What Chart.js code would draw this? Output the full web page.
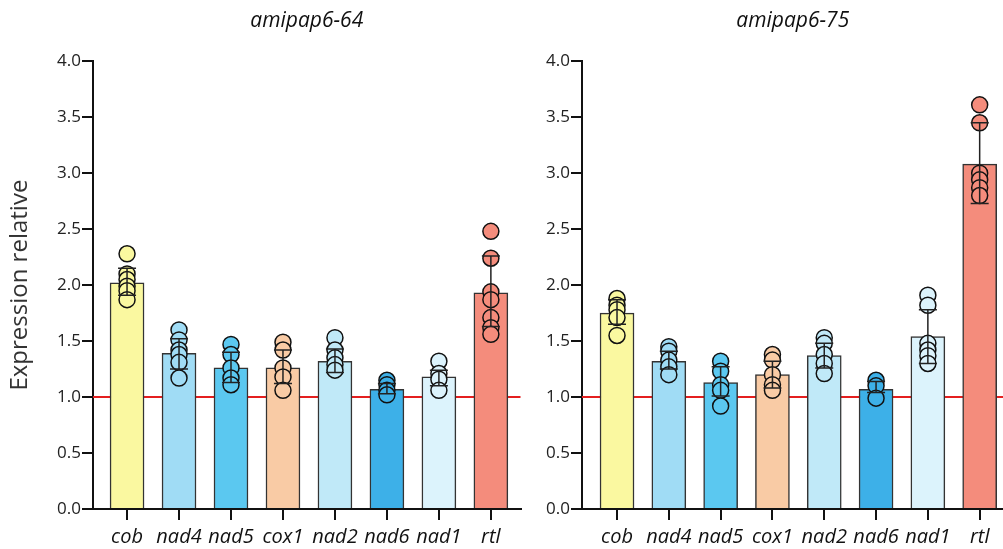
<!DOCTYPE html>
<html lang="en">
<head>
<meta charset="UTF-8" />
<title>amipap6 expression</title>
<script src="https://cdn.jsdelivr.net/npm/chart.js"></script>
<style>
  body { margin: 0; background: #fff; overflow: hidden; }
  #wrap { position: relative; width: 1003px; height: 549px; overflow: hidden; }
  canvas { position: absolute; top: 0; }
</style>
</head>
<body>
<div id="wrap">
  <!-- canvases are 10px wider than their panel: Chart.js keeps room for the point radius on the right -->
  <canvas id="left" width="530" height="549" style="left:0"></canvas>
  <canvas id="right" width="493" height="549" style="left:520px"></canvas>
</div>
<script>
const genes = ['cob', 'nad4', 'nad5', 'cox1', 'nad2', 'nad6', 'nad1', 'rtl'];
const barColors = ['#faf8a0', '#a0dcf5', '#5bc8f0', '#f9cba5', '#c0e9f8', '#3db0e8', '#dcf3fc', '#f48c7c'];
const refLevel = 1.0;

// amipap6-64
const means64 = [2.02, 1.39, 1.26, 1.26, 1.32, 1.07, 1.18, 1.93];
const errHi64 = [2.15, 1.52, 1.40, 1.42, 1.43, 1.12, 1.24, 2.26];
const errLo64 = [1.91, 1.25, 1.13, 1.12, 1.22, 1.03, 1.10, 1.63];
const reps64 = [
  [2.28, 2.10, 2.05, 1.99, 1.95, 1.87],
  [1.60, 1.51, 1.42, 1.38, 1.31, 1.17],
  [1.47, 1.38, 1.26, 1.17, 1.11],
  [1.49, 1.42, 1.26, 1.18, 1.06],
  [1.53, 1.42, 1.35, 1.29, 1.24],
  [1.15, 1.11, 1.06, 1.02],
  [1.32, 1.21, 1.16, 1.06],
  [2.48, 2.24, 1.94, 1.87, 1.71, 1.62, 1.56]
];

// amipap6-75
const means75 = [1.75, 1.32, 1.13, 1.20, 1.37, 1.07, 1.54, 3.08];
const errHi75 = [1.87, 1.41, 1.27, 1.32, 1.48, 1.14, 1.78, 3.45];
const errLo75 = [1.65, 1.25, 1.01, 1.08, 1.26, 1.04, 1.30, 2.73];
const reps75 = [
  [1.88, 1.82, 1.78, 1.71, 1.55],
  [1.45, 1.41, 1.33, 1.27, 1.20],
  [1.32, 1.23, 1.11, 1.06, 0.92],
  [1.38, 1.33, 1.20, 1.11, 1.06],
  [1.53, 1.48, 1.38, 1.30, 1.21],
  [1.15, 1.10, 0.99],
  [1.91, 1.82, 1.48, 1.42, 1.37, 1.30],
  [3.61, 3.45, 3.00, 2.94, 2.87, 2.80]
];

const FONT = '"Open Sans", "Noto Sans", sans-serif';
const INK = '#111';

// red reference line, under the bars
const refLine = {
  id: 'refLine',
  beforeDatasetsDraw(chart) {
    const { ctx, chartArea, scales } = chart;
    const y = scales.y.getPixelForValue(refLevel);
    ctx.save();
    ctx.strokeStyle = '#e41f1f';
    ctx.lineWidth = 2;
    ctx.beginPath();
    ctx.moveTo(chartArea.left, y);
    ctx.lineTo(chartArea.right, y);
    ctx.stroke();
    ctx.restore();
  }
};

// SD whiskers on top of everything
const errorBars = {
  id: 'errorBars',
  afterDatasetsDraw(chart, args, opts) {
    const { ctx, scales } = chart;
    ctx.save();
    ctx.strokeStyle = '#222';
    ctx.lineWidth = 1.5;
    opts.hi.forEach((h, i) => {
      const x = scales.x.getPixelForValue(i);
      const yh = scales.y.getPixelForValue(h);
      const yl = scales.y.getPixelForValue(opts.lo[i]);
      ctx.beginPath();
      ctx.moveTo(x, yh); ctx.lineTo(x, yl);
      ctx.moveTo(x - 9, yh); ctx.lineTo(x + 9, yh);
      ctx.moveTo(x - 9, yl); ctx.lineTo(x + 9, yl);
      ctx.stroke();
    });
    ctx.restore();
  }
};

// category tick marks below the x axis
const xTickMarks = {
  id: 'xTickMarks',
  afterDraw(chart) {
    const { ctx, chartArea, scales } = chart;
    ctx.save();
    ctx.fillStyle = INK;
    genes.forEach((g, i) => {
      const x = Math.round(scales.x.getPixelForValue(i));
      ctx.fillRect(x - 1, chartArea.bottom, 2, 11);
    });
    ctx.restore();
  }
};

function makePanel(id, title, means, hi, lo, reps, yWidth, xMin, xMax, yTitle) {
  const datasets = [{
    type: 'bar',
    data: means.map((m, i) => ({ x: i, y: m })),
    backgroundColor: barColors,
    borderColor: '#333',
    borderWidth: 1.5,
    barThickness: 34,
    order: 2
  }];
  reps.forEach((vals, i) => {
    datasets.push({
      type: 'scatter',
      data: vals.map(v => ({ x: i, y: v })),
      backgroundColor: barColors[i],
      borderColor: INK,
      borderWidth: 1.5,
      pointRadius: 8,
      order: 1
    });
  });

  return new Chart(document.getElementById(id), {
    type: 'bar',
    data: { datasets },
    options: {
      responsive: false,
      devicePixelRatio: 1,
      animation: false,
      layout: { padding: 0 },
      plugins: {
        legend: { display: false },
        tooltip: { enabled: false },
        title: {
          display: true,
          text: title,
          fullSize: false,
          color: INK,
          font: { family: FONT, size: 21, style: 'italic', weight: 'normal' },
          padding: { top: 8, bottom: 28 }
        },
        errorBars: { hi, lo }
      },
      scales: {
        x: {
          type: 'linear',
          min: xMin,
          max: xMax,
          offset: false,
          afterFit: s => { s.height = 40; },
          grid: { offset: false, drawOnChartArea: false, drawTicks: true, tickLength: 11, color: INK, lineWidth: 2 },
          border: { display: true, color: INK, width: 2 },
          ticks: {
            stepSize: 1,
            includeBounds: false,
            callback: v => genes[v],
            autoSkip: false,
            maxRotation: 0,
            padding: 5,
            color: INK,
            font: { family: FONT, size: 20, style: 'italic' }
          }
        },
        y: {
          min: 0,
          max: 4,
          afterFit: s => { s.width = yWidth; },
          grid: { drawOnChartArea: false, drawTicks: true, tickLength: 11, color: INK, lineWidth: 2 },
          border: { display: true, color: INK, width: 2 },
          ticks: {
            stepSize: 0.5,
            callback: v => v.toFixed(1),
            padding: 1,
            color: '#222',
            font: { family: FONT, size: 17 }
          },
          title: {
            display: !!yTitle,
            text: yTitle || '',
            color: '#333',
            padding: { top: 6, bottom: 0 },
            font: { family: FONT, size: 24, weight: 'normal' }
          }
        }
      }
    },
    plugins: [refLine, errorBars, xTickMarks]
  });
}

makePanel('left', 'amipap6-64', means64, errHi64, errLo64, reps64, 93, -0.655, 7.57, 'Expression relative');
makePanel('right', 'amipap6-75', means75, errHi75, errLo75, reps75, 62, -0.676, 7.46, null);
</script>
</body>
</html>
